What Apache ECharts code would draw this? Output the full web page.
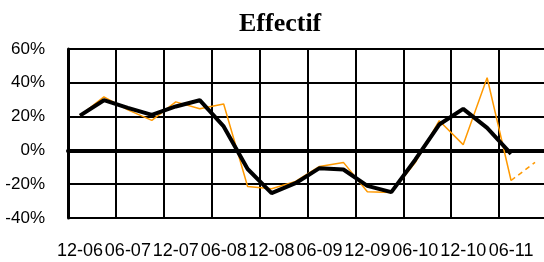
<!DOCTYPE html>
<html>
<head>
<meta charset="utf-8">
<script src="https://cdn.jsdelivr.net/npm/echarts@6/dist/echarts.min.js"></script>
<style>
    html, body { margin: 0; padding: 0; background: #fff; }
    #chart { width: 544px; height: 262px; }
</style>
</head>
<body>
<div id="chart"></div>
<script>
    // trimestres
    var categories = ['12-06', '03-07', '06-07', '09-07', '12-07', '03-08', '06-08', '09-08', '12-08', '03-09',
        '06-09', '09-09', '12-09', '03-10', '06-10', '09-10', '12-10', '03-11', '06-11', '09-11'];
    var blackValues = [20.6, 29.7, 25.2, 21, 26, 29.7, 14.2, -11, -25.3, -19.4,
        -10.5, -11.3, -21, -24.7, -5.5, 15.3, 24.6, 13.3, -2.1];
    var orangeValues = [20.6, 31.7, 24, 17.8, 28.7, 24.7, 27.5, -21.4, -22.7, -18.4,
        -9.5, -7.1, -24.5, -24.9, -7.2, 17.6, 3.4, 43, -17.8];
    var orangeForecast = [-17.8, -7.1]; // dernier segment en pointillé
    var yTicks = { min: -40, max: 60, step: 20 };

    var dashedData = categories.map(function () { return null; });
    dashedData[18] = orangeForecast[0];
    dashedData[19] = orangeForecast[1];

    var myChart = echarts.init(document.getElementById('chart'));

    var option = {
        animation: false,
        title: {
            text: 'Effectif',
            left: 234,
            top: 6,
            textStyle: { fontFamily: 'Liberation Serif', fontWeight: 'bold', fontSize: 26, color: '#000' }
        },
        grid: { left: 68, top: 49, right: -3, bottom: 44, containLabel: false, outerBoundsMode: 'none' },
        xAxis: {
            type: 'category',
            data: categories,
            boundaryGap: true,
            axisLine: { onZero: true, lineStyle: { color: '#000', width: 4 } },
            axisTick: { show: true, interval: 1, length: 5, lineStyle: { color: '#000', width: 2 } },
            axisLabel: { interval: 1, margin: 24, color: '#000', fontFamily: 'Liberation Sans', fontSize: 18 },
            splitLine: { show: true, interval: 1, lineStyle: { color: '#000', width: 2 } }
        },
        yAxis: {
            type: 'value',
            min: yTicks.min,
            max: yTicks.max,
            interval: yTicks.step,
            axisLine: { show: true, lineStyle: { color: '#000', width: 3 } },
            axisTick: { show: false },
            axisLabel: { formatter: '{value}%', margin: 23, color: '#000', fontFamily: 'Liberation Sans', fontSize: 17 },
            splitLine: { show: true, lineStyle: { color: '#000', width: 2 } }
        },
        series: [
            {
                type: 'line',
                data: orangeValues,
                symbol: 'none',
                lineStyle: { color: '#FF9900', width: 1.5 },
                z: 3
            },
            {
                type: 'line',
                data: dashedData,
                symbol: 'none',
                lineStyle: { color: '#FF9900', width: 1.5, type: [5, 4] },
                z: 3
            },
            {
                type: 'line',
                data: blackValues,
                symbol: 'none',
                lineStyle: { color: '#000', width: 4 },
                z: 4
            }
        ]
    };

    myChart.setOption(option);
</script>
</body>
</html>
